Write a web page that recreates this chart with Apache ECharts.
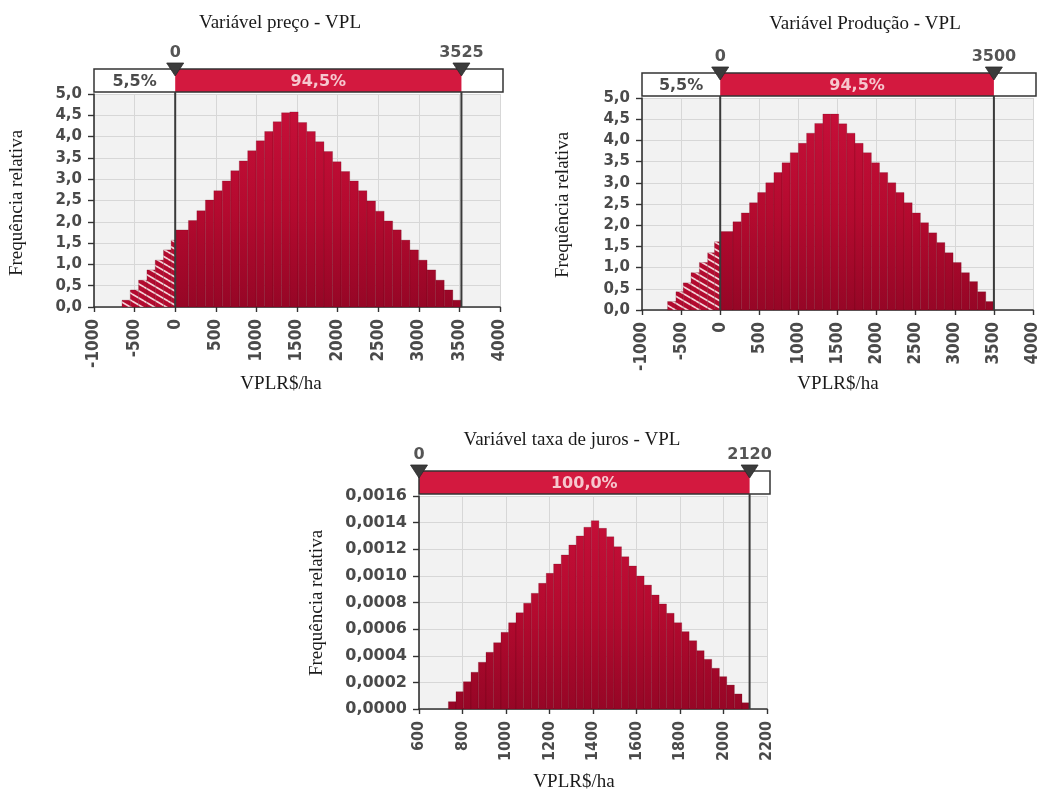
<!DOCTYPE html>
<html>
<head>
<meta charset="utf-8">
<script src="https://cdn.jsdelivr.net/npm/echarts@6/dist/echarts.min.js"></script>
<style>
  html, body { margin: 0; padding: 0; background: #ffffff; }
  #chart { width: 1044px; height: 790px; }
</style>
</head>
<body>
<div id="chart"></div>
<script>
// Histogram bin edges (R$/ha) and relative frequencies for each simulation
const priceEdges = [-655, -553, -451, -348, -246, -144, -50, 0,
  163, 267, 372, 476, 580, 685, 789, 893, 998, 1102, 1206, 1310,
  1412, 1514,
  1620, 1726, 1832, 1938, 2043, 2149, 2255, 2361, 2467, 2573, 2678, 2784,
  2890, 2996, 3102, 3208, 3313, 3419, 3525];
const priceFreq = [0.16, 0.40, 0.63, 0.87, 1.10, 1.34, 1.57,
  1.81, 2.03, 2.26, 2.51, 2.73, 2.96, 3.20, 3.43, 3.67, 3.90, 4.12, 4.35,
  4.56, 4.58,
  4.33, 4.12, 3.88, 3.65, 3.41, 3.18, 2.96, 2.73, 2.49, 2.25, 2.02, 1.81,
  1.57, 1.34, 1.10, 0.87, 0.63, 0.40, 0.16];

const prodEdges = [-673, -566, -473, -373, -266, -160, -73, 0,
  163, 270, 375, 479, 583, 687, 791, 896, 1000, 1105, 1209, 1313,
  1414, 1515,
  1619, 1724, 1828, 1933, 2037, 2142, 2246, 2351, 2455, 2560, 2664, 2769,
  2873, 2978, 3082, 3187, 3291, 3396, 3500];
const prodFreq = [0.20, 0.43, 0.64, 0.88, 1.12, 1.35, 1.61,
  1.85, 2.08, 2.29, 2.53, 2.77, 3.00, 3.24, 3.47, 3.71, 3.93, 4.17, 4.40,
  4.62, 4.62,
  4.39, 4.17, 3.93, 3.71, 3.47, 3.24, 3.00, 2.77, 2.53, 2.29, 2.06, 1.82,
  1.59, 1.35, 1.12, 0.88, 0.67, 0.43, 0.20];

const rateEdges = [735, 770, 804, 839, 873, 908, 943, 977, 1012, 1046,
  1081, 1116, 1150, 1185, 1219, 1254, 1289, 1323, 1358, 1392,
  1427, 1462, 1496, 1531, 1565, 1600, 1635, 1669, 1704, 1738,
  1773, 1808, 1842, 1877, 1911, 1946, 1981, 2015, 2050, 2085, 2120];
const rateFreq = [0.000055, 0.000130, 0.000205, 0.000276, 0.000351, 0.000426,
  0.000498, 0.000576, 0.000648, 0.000723, 0.000794, 0.000869, 0.000944,
  0.001019, 0.001089, 0.001157, 0.001232, 0.001300, 0.001365,
  0.001415,
  0.001357, 0.001294, 0.001219, 0.001144, 0.001074, 0.000999, 0.000931,
  0.000856, 0.000789, 0.000719, 0.000648, 0.000581, 0.000513, 0.000438,
  0.000373, 0.000306, 0.000243, 0.000180, 0.000113, 0.000047];

// Delimiters [lower, upper] and the probability shares [below, between]
const priceDelim = [0, 3525];
const pricePct = [5.5, 94.5];
const prodDelim = [0, 3500];
const prodPct = [5.5, 94.5];
const rateDelim = [0, 2120];
const ratePct = [0.0, 100.0];

// Axis ranges [min, max, interval]
const vplAxis = [-1000, 4000, 500];
const freqAxis = [0, 5, 0.5];
const rateAxis = [600, 2200, 200];
const rateFreqAxis = [0, 0.0016, 0.0002];

const titles = ['Variável preço - VPL', 'Variável Produção - VPL', 'Variável taxa de juros - VPL'];
const xName = 'VPLR$/ha';
const yName = 'Frequência relativa';

const chart = echarts.init(document.getElementById('chart'), null, { renderer: 'canvas' });

// diagonal hatch used for the bars below the lower delimiter
function makeHatch() {
  const c = document.createElement('canvas');
  c.width = 12; c.height = 7;
  const g = c.getContext('2d');
  g.fillStyle = '#b30a2f';
  g.fillRect(0, 0, 12, 7);
  g.strokeStyle = '#f5d3d9';
  g.lineWidth = 1.7;
  [-7, 0, 7].forEach(function (dy) {
    g.beginPath(); g.moveTo(0, dy); g.lineTo(12, dy + 7); g.stroke();
  });
  return c;
}
const hatch = makeHatch();

const grids = [
  { left: 94, top: 94, width: 406, height: 213 },
  { left: 642, top: 98, width: 391, height: 212 },
  { left: 419, top: 496, width: 348, height: 213 }
];

const labelGrey = '#4a4a4a';

function xAxisCfg(idx, rng, fontSize) {
  return {
    type: 'value', gridIndex: idx, min: rng[0], max: rng[1], interval: rng[2],
    axisLine: { show: true, onZero: false, lineStyle: { color: '#333', width: 1.6 } },
    axisTick: { show: true, length: 5, lineStyle: { color: '#333', width: 1.4 } },
    axisLabel: {
      rotate: 90, margin: 12, color: labelGrey, fontWeight: 'bold', fontSize: fontSize,
      fontFamily: "'Liberation Sans Narrow', 'DejaVu Sans Condensed', 'Liberation Sans'",
      formatter: function (v) { return String(v); }
    },
    splitLine: { show: true, lineStyle: { color: '#d7d7d7', width: 1 } }
  };
}

function yAxisCfg(idx, rng, digits, fontSize) {
  return {
    type: 'value', gridIndex: idx, min: rng[0], max: rng[1], interval: rng[2],
    axisLine: { show: true, onZero: false, lineStyle: { color: '#333', width: 1.6 } },
    axisTick: { show: true, length: 6, lineStyle: { color: '#333', width: 1.4 } },
    axisLabel: {
      margin: 12, color: labelGrey, fontWeight: 'bold', fontSize: fontSize,
      fontFamily: "'DejaVu Sans', Verdana, sans-serif",
      formatter: function (v) { return v.toFixed(digits).replace('.', ','); }
    },
    splitLine: { show: true, lineStyle: { color: '#d7d7d7', width: 1 } }
  };
}

function barSeries(idx, edges, freq, cut) {
  const data = freq.map(function (f, i) { return [edges[i], edges[i + 1], f]; });
  return {
    type: 'custom', xAxisIndex: idx, yAxisIndex: idx, data: data,
    encode: { x: [0, 1], y: 2 }, z: 2, silent: true,
    renderItem: function (params, api) {
      const cs = params.coordSys;
      const x0 = api.value(0), x1 = api.value(1), h = api.value(2);
      const p0 = api.coord([x0, h]);
      const p1 = api.coord([x1, 0]);
      const fill = x1 <= cut
        ? { image: hatch, repeat: 'repeat' }
        : new echarts.graphic.LinearGradient(0, cs.y, 0, cs.y + cs.height, [
            { offset: 0, color: '#c8103a' },
            { offset: 0.55, color: '#b40a2f' },
            { offset: 1, color: '#960626' }
          ], true);
      return {
        type: 'rect',
        shape: { x: p0[0], y: p0[1], width: p1[0] - p0[0], height: p1[1] - p0[1] },
        style: { fill: fill, stroke: 'rgba(95,0,20,0.28)', lineWidth: 0.8 }
      };
    }
  };
}

function pctText(v) { return v.toFixed(1).replace('.', ',') + '%'; }

function delimiterSeries(idx, bounds, pcts) {
  return {
    type: 'custom', xAxisIndex: idx, yAxisIndex: idx, clip: false, silent: true, z: 5,
    data: [[bounds[0], bounds[1], pcts[0], pcts[1]]],
    renderItem: function (params, api) {
      const cs = params.coordSys;
      const clampX = function (v) {
        return Math.max(cs.x, Math.min(cs.x + cs.width, api.coord([v, 0])[0]));
      };
      const lo = api.value(0), hi = api.value(1);
      const below = api.value(2), mid = api.value(3);
      const above = 100 - below - mid;
      const xa = clampX(lo), xb = clampX(hi);
      const top = cs.y - 25, bot = cs.y - 2;
      const left = cs.x, right = cs.x + cs.width + 3;
      const base = cs.y + cs.height;
      const ch = [];
      ch.push({ type: 'rect', shape: { x: left, y: top, width: right - left, height: bot - top },
        style: { fill: '#ffffff' } });
      ch.push({ type: 'rect', shape: { x: xa, y: top, width: xb - xa, height: bot - top },
        style: { fill: '#d3193f' } });
      ch.push({ type: 'rect', shape: { x: left, y: top, width: right - left, height: bot - top },
        style: { fill: 'none', stroke: '#333', lineWidth: 1.5 } });
      const font = "bold 16px 'DejaVu Sans', Verdana, sans-serif";
      if (below > 0.05) {
        ch.push({ type: 'text', x: (left + xa) / 2, y: (top + bot) / 2 + 1,
          style: { text: pctText(below), fill: '#4a4a4a', font: font, align: 'center', verticalAlign: 'middle' } });
      }
      ch.push({ type: 'text', x: (xa + xb) / 2, y: (top + bot) / 2 + 1,
        style: { text: pctText(mid), fill: '#f6c7ce', font: font, align: 'center', verticalAlign: 'middle' } });
      if (above > 0.05) {
        ch.push({ type: 'text', x: (xb + right) / 2, y: (top + bot) / 2 + 1,
          style: { text: pctText(above), fill: '#4a4a4a', font: font, align: 'center', verticalAlign: 'middle' } });
      }
      [[xa, lo], [xb, hi]].forEach(function (d) {
        const x = d[0];
        if (x > cs.x + 1) {
          ch.push({ type: 'line', shape: { x1: x, y1: bot, x2: x, y2: base },
            style: { stroke: '#3a3a3a', lineWidth: 2 } });
        }
        ch.push({ type: 'polygon', shape: { points: [[x - 8.5, top - 6], [x + 8.5, top - 6], [x, top + 7]] },
          style: { fill: '#3b3b3b', stroke: '#2a2a2a', lineWidth: 0.8 } });
        ch.push({ type: 'text', x: x, y: top - 16,
          style: { text: String(d[1]), fill: '#555555', font: font, align: 'center', verticalAlign: 'middle' } });
      });
      return { type: 'group', children: ch };
    }
  };
}

const serif = "'Liberation Serif', 'Times New Roman', serif";
function label(text, x, y, rotate) {
  return {
    type: 'text', x: x, y: y, rotation: rotate ? Math.PI / 2 : 0, silent: true,
    style: { text: text, fill: '#1a1a1a', font: '19px ' + serif, align: 'center', verticalAlign: 'middle' }
  };
}

const option = {
  backgroundColor: '#ffffff',
  animation: false,
  grid: grids.map(function (g) {
    return Object.assign({ show: true, backgroundColor: '#f2f2f2', borderWidth: 0 }, g);
  }),
  xAxis: [
    xAxisCfg(0, vplAxis, 17),
    xAxisCfg(1, vplAxis, 17),
    xAxisCfg(2, rateAxis, 16)
  ],
  yAxis: [
    yAxisCfg(0, freqAxis, 1, 15),
    yAxisCfg(1, freqAxis, 1, 15),
    yAxisCfg(2, rateFreqAxis, 4, 16)
  ],
  series: [
    barSeries(0, priceEdges, priceFreq, priceDelim[0]),
    barSeries(1, prodEdges, prodFreq, prodDelim[0]),
    barSeries(2, rateEdges, rateFreq, rateDelim[0]),
    delimiterSeries(0, priceDelim, pricePct),
    delimiterSeries(1, prodDelim, prodPct),
    delimiterSeries(2, rateDelim, ratePct)
  ],
  graphic: [
    label(titles[0], 280, 23),
    label(titles[1], 865, 24),
    label(titles[2], 572, 440),
    label(xName, 281, 384),
    label(xName, 838, 384),
    label(xName, 574, 782),
    label(yName, 17, 203, true),
    label(yName, 563, 205, true),
    label(yName, 317, 603, true)
  ]
};

chart.setOption(option);
</script>
</body>
</html>
